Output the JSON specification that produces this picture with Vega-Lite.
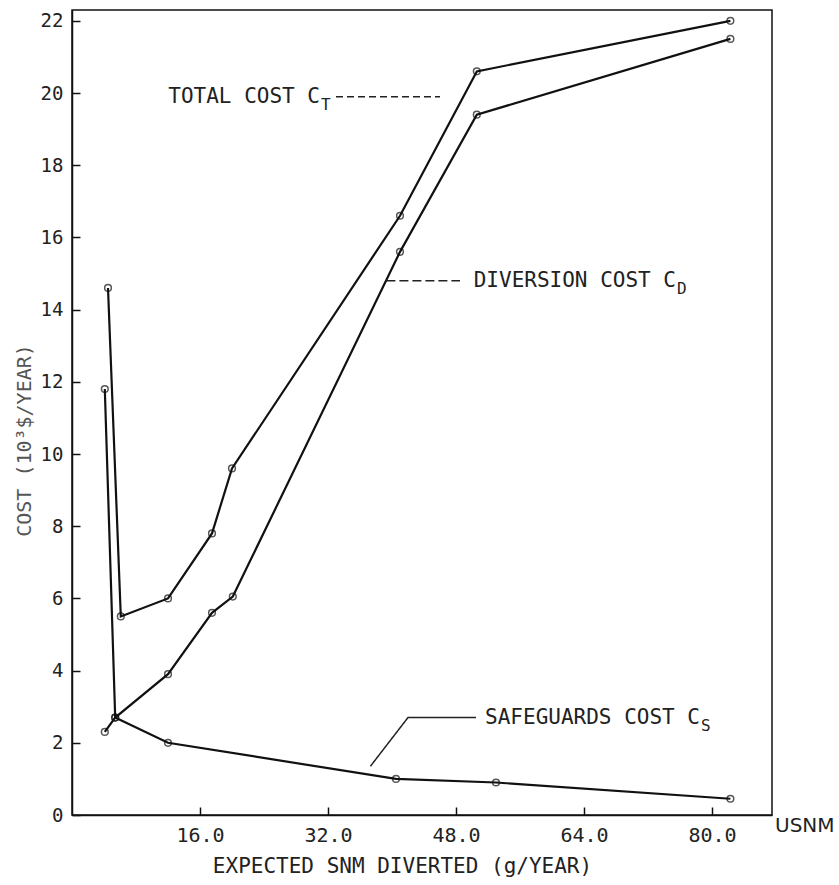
{
  "$schema": "https://vega.github.io/schema/vega-lite/v6.json",
  "width": 700,
  "height": 805,
  "autosize": {"type": "none"},
  "padding": {"left": 72, "top": 10, "right": 67, "bottom": 70},
  "background": "white",
  "config": {
    "view": {"stroke": "#111", "strokeWidth": 1.5},
    "font": "DejaVu Sans Mono"
  },
  "datasets": {
    "curves": [
      {"series": "T", "i": 1, "x": 4.5, "y": 14.6},
      {"series": "T", "i": 2, "x": 6.1, "y": 5.5},
      {"series": "T", "i": 3, "x": 12.0, "y": 6.0},
      {"series": "T", "i": 4, "x": 17.5, "y": 7.8},
      {"series": "T", "i": 5, "x": 20.0, "y": 9.6},
      {"series": "T", "i": 6, "x": 41.0, "y": 16.6},
      {"series": "T", "i": 7, "x": 50.6, "y": 20.6},
      {"series": "T", "i": 8, "x": 82.3, "y": 22.0},
      {"series": "D", "i": 1, "x": 4.1, "y": 2.3},
      {"series": "D", "i": 2, "x": 5.4, "y": 2.7},
      {"series": "D", "i": 3, "x": 12.0, "y": 3.9},
      {"series": "D", "i": 4, "x": 17.5, "y": 5.6},
      {"series": "D", "i": 5, "x": 20.1, "y": 6.05},
      {"series": "D", "i": 6, "x": 41.0, "y": 15.6},
      {"series": "D", "i": 7, "x": 50.6, "y": 19.4},
      {"series": "D", "i": 8, "x": 82.3, "y": 21.5},
      {"series": "S", "i": 1, "x": 4.1, "y": 11.8},
      {"series": "S", "i": 2, "x": 5.4, "y": 2.7},
      {"series": "S", "i": 3, "x": 12.0, "y": 2.0},
      {"series": "S", "i": 4, "x": 40.5, "y": 1.0},
      {"series": "S", "i": 5, "x": 53.0, "y": 0.9},
      {"series": "S", "i": 6, "x": 82.3, "y": 0.45}
    ],
    "leaders": [
      {"lead": "T", "i": 1, "x": 33.0, "y": 19.9},
      {"lead": "T", "i": 2, "x": 46.0, "y": 19.9},
      {"lead": "D", "i": 1, "x": 39.3, "y": 14.8},
      {"lead": "D", "i": 2, "x": 48.5, "y": 14.8},
      {"lead": "S", "i": 1, "x": 37.3, "y": 1.35},
      {"lead": "S", "i": 2, "x": 42.0, "y": 2.7},
      {"lead": "S", "i": 3, "x": 50.5, "y": 2.7}
    ],
    "labels": [
      {"text": "TOTAL COST C", "sub": "T", "x": 31.0, "y": 19.9},
      {"text": "DIVERSION COST C", "sub": "D", "x": 75.5, "y": 14.8},
      {"text": "SAFEGUARDS COST C", "sub": "S", "x": 78.5, "y": 2.7}
    ]
  },
  "layer": [
    {
      "data": {"name": "curves"},
      "mark": {"type": "line", "color": "#111", "strokeWidth": 2.2},
      "encoding": {
        "x": {
          "field": "x", "type": "quantitative",
          "scale": {"domain": [0, 87.5], "nice": false, "zero": false},
          "axis": {
            "values": [16, 32, 48, 64, 80], "format": ".1f",
            "title": "EXPECTED SNM DIVERTED (g/YEAR)",
            "grid": false, "tickSize": -8, "tickWidth": 1.5, "tickColor": "#111",
            "domainColor": "#111", "domainWidth": 1.5,
            "labelPadding": 18, "labelFontSize": 20, "labelFont": "DejaVu Sans Mono", "labelColor": "#222",
            "titleFont": "DejaVu Sans Mono", "titleFontSize": 21, "titleFontWeight": "normal", "titleColor": "#222",
            "titleX": 330, "titleY": 51, "titleAlign": "center", "titleBaseline": "middle"
          }
        },
        "y": {
          "field": "y", "type": "quantitative",
          "scale": {"domain": [0, 22.3], "nice": false, "zero": false},
          "axis": {
            "values": [0, 2, 4, 6, 8, 10, 12, 14, 16, 18, 20, 22], "format": "d",
            "title": "COST (10³$/YEAR)",
            "grid": false, "tickSize": -8, "tickWidth": 1.5, "tickColor": "#111",
            "domainColor": "#111", "domainWidth": 1.5,
            "labelPadding": 17, "labelFontSize": 19, "labelFont": "DejaVu Sans Mono", "labelColor": "#222",
            "titleFont": "DejaVu Sans Mono", "titleFontSize": 20, "titleFontWeight": "normal", "titleColor": "#555",
            "titleX": -48, "titleY": 430, "titleAlign": "center", "titleBaseline": "middle"
          }
        },
        "detail": {"field": "series"},
        "order": {"field": "i", "type": "quantitative"}
      }
    },
    {
      "data": {"name": "curves"},
      "mark": {"type": "point", "shape": "circle", "filled": false, "color": "#111", "strokeWidth": 1.5, "size": 45},
      "encoding": {
        "x": {"field": "x", "type": "quantitative"},
        "y": {"field": "y", "type": "quantitative"}
      }
    },
    {
      "data": {"name": "leaders"},
      "mark": {"type": "line", "color": "#222", "strokeWidth": 1.5},
      "encoding": {
        "x": {"field": "x", "type": "quantitative"},
        "y": {"field": "y", "type": "quantitative"},
        "detail": {"field": "lead"},
        "order": {"field": "i", "type": "quantitative"},
        "strokeDash": {
          "field": "lead", "type": "nominal",
          "scale": {"domain": ["T", "D", "S"], "range": [[7, 4], [9, 4], [1, 0]]},
          "legend": null
        }
      }
    },
    {
      "data": {"name": "labels"},
      "mark": {"type": "text", "align": "right", "baseline": "middle", "font": "DejaVu Sans Mono", "fontSize": 21, "color": "#222"},
      "encoding": {
        "x": {"field": "x", "type": "quantitative"},
        "y": {"field": "y", "type": "quantitative"},
        "text": {"field": "text"}
      }
    },
    {
      "data": {"name": "labels"},
      "mark": {"type": "text", "align": "left", "baseline": "middle", "font": "DejaVu Sans Mono", "fontSize": 16, "dx": 1, "dy": 8, "color": "#222"},
      "encoding": {
        "x": {"field": "x", "type": "quantitative"},
        "y": {"field": "y", "type": "quantitative"},
        "text": {"field": "sub"}
      }
    },
    {
      "data": {"values": [{"t": "USNM"}]},
      "mark": {"type": "text", "align": "left", "baseline": "middle", "font": "DejaVu Sans", "fontSize": 20, "dx": 3, "dy": 11, "color": "#222"},
      "encoding": {
        "x": {"datum": 87.5, "type": "quantitative"},
        "y": {"datum": 0, "type": "quantitative"},
        "text": {"field": "t"}
      }
    }
  ]
}
